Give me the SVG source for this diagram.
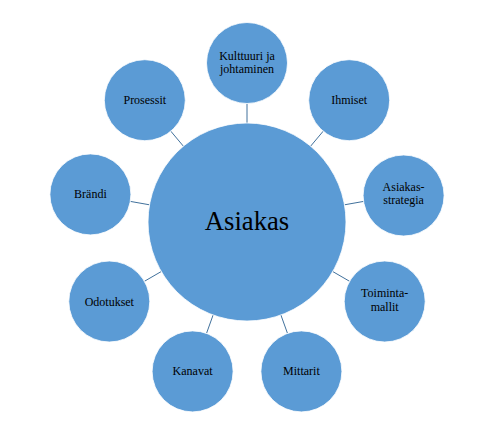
<svg xmlns="http://www.w3.org/2000/svg" width="489" height="437" viewBox="0 0 489 437">
<style>
.n{fill:#5B9BD5;stroke:#ffffff;stroke-width:0.8}
.c{stroke:#41719C;stroke-width:1}
.t{font-family:'Liberation Serif','Times New Roman',serif;fill:#000000;text-anchor:middle;font-size:12px}
.b{font-size:26.7px}
</style>
<rect width="489" height="437" fill="#ffffff"/>
<g id="connectors">
<line class="c" x1="247" y1="123" x2="247" y2="103.5"/>
<line class="c" x1="310.6" y1="146.2" x2="323.2" y2="131.2"/>
<line class="c" x1="344.5" y1="204.8" x2="363.7" y2="201.4"/>
<line class="c" x1="332.7" y1="271.5" x2="349.6" y2="281.3"/>
<line class="c" x1="280.9" y1="315" x2="287.5" y2="333.4"/>
<line class="c" x1="213.1" y1="315" x2="206.5" y2="333.4"/>
<line class="c" x1="161.3" y1="271.5" x2="144.4" y2="281.3"/>
<line class="c" x1="149.5" y1="204.8" x2="130.3" y2="201.4"/>
<line class="c" x1="183.4" y1="146.2" x2="170.8" y2="131.2"/>
</g>
<g id="asiakas">
<circle class="n" cx="247" cy="222" r="99"/>
<text class="t b" x="247" y="230">Asiakas</text>
</g>
<g id="kulttuuri">
<circle class="n" cx="247" cy="63" r="40.5"/>
<text class="t" x="247" y="59.5">Kulttuuri ja</text>
<text class="t" x="247" y="73">johtaminen</text>
</g>
<g id="ihmiset">
<circle class="n" cx="349.2" cy="100.2" r="40.5"/>
<text class="t" x="349.2" y="104.2">Ihmiset</text>
</g>
<g id="asiakasstrategia">
<circle class="n" cx="403.6" cy="195.5" r="40.5"/>
<text class="t" x="403.6" y="190.5">Asiakas-</text>
<text class="t" x="403.6" y="204">strategia</text>
</g>
<g id="toimintamallit">
<circle class="n" cx="384.7" cy="301.5" r="40.5"/>
<text class="t" x="384.7" y="297">Toiminta-</text>
<text class="t" x="384.7" y="310.5">mallit</text>
</g>
<g id="mittarit">
<circle class="n" cx="301.4" cy="371.4" r="40.5"/>
<text class="t" x="301.4" y="375.4">Mittarit</text>
</g>
<g id="kanavat">
<circle class="n" cx="192.6" cy="371.4" r="40.5"/>
<text class="t" x="192.6" y="375.4">Kanavat</text>
</g>
<g id="odotukset">
<circle class="n" cx="109.3" cy="301.5" r="40.5"/>
<text class="t" x="109.3" y="305.5">Odotukset</text>
</g>
<g id="brandi">
<circle class="n" cx="90.4" cy="194.4" r="40.5"/>
<text class="t" x="90.4" y="198.4">Brändi</text>
</g>
<g id="prosessit">
<circle class="n" cx="144.8" cy="100.2" r="40.5"/>
<text class="t" x="144.8" y="104.2">Prosessit</text>
</g>
</svg>
